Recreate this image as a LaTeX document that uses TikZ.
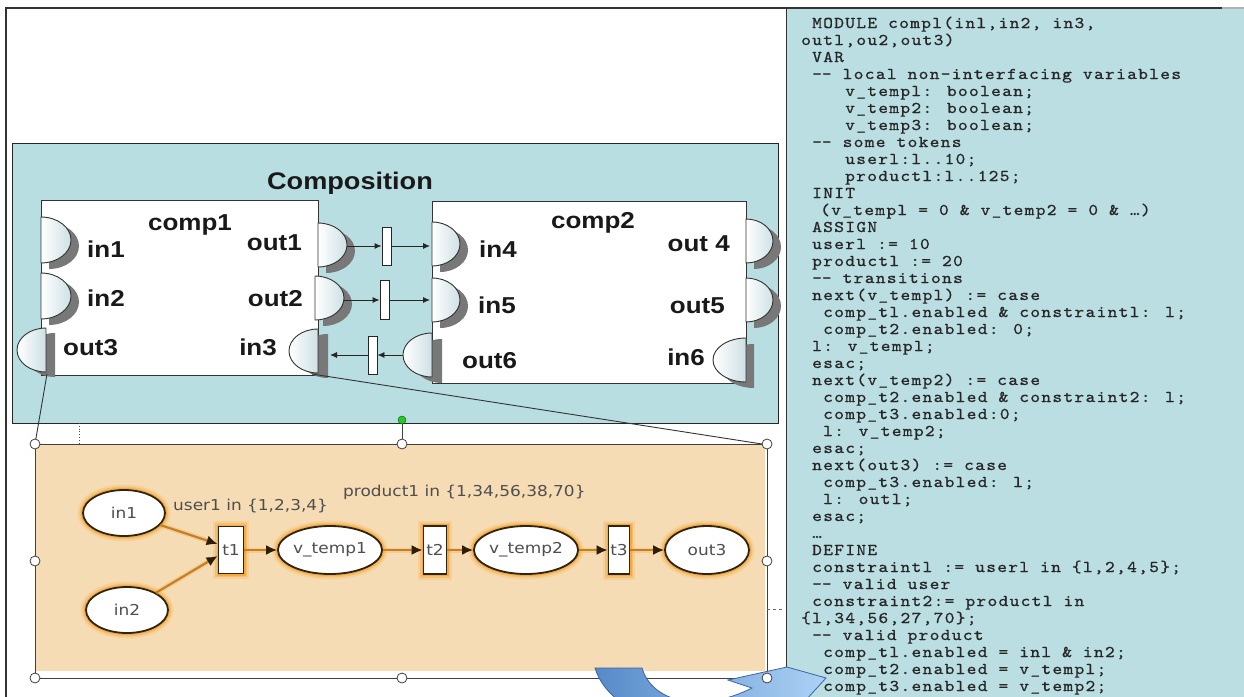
\documentclass[tikz,border=0pt]{standalone}
\usepackage{fontspec}
\usetikzlibrary{shapes.geometric,arrows.meta}
\newfontfamily\wsans{Liberation Sans}[FakeStretch=1.13]
\newfontfamily\vsans{DejaVu Sans}[FakeStretch=1.13]
\newfontfamily\cmono{lmmono10-regular.otf}[FakeStretch=1.13,LetterSpace=8,FakeBold=0.8]
\definecolor{panelblue}{RGB}{186,222,226}
\definecolor{compblue}{RGB}{184,222,226}
\definecolor{peach}{RGB}{246,220,180}
\definecolor{portfill}{RGB}{206,224,228}
\definecolor{portshade}{RGB}{120,120,120}
\definecolor{pnedge}{RGB}{196,128,40}
\definecolor{pnhead}{RGB}{45,30,10}
\definecolor{pnglowc}{RGB}{245,160,40}
\definecolor{pnborder}{RGB}{45,36,20}
\definecolor{pntext}{RGB}{78,78,78}
\definecolor{arrowdark}{RGB}{86,138,200}
\definecolor{arrowlight}{RGB}{172,210,245}
\definecolor{arrowedge}{RGB}{60,100,160}
\definecolor{handlegreen}{RGB}{40,200,40}
% two dashes that never fuse into an en dash
\newcommand\dd{-\kern0pt-}
% half-disc port: flat side x, centre y, signed bulge width, half height, shadow dx, shadow dy
\newcommand\dport[6]{%
  \fill[portshade] ({#1+#5},{#2+#6-#4}) .. controls ({#1+#5+0.5523*(#3)},{#2+#6-#4}) and ({#1+#5+#3},{#2+#6-0.5523*#4}) .. ({#1+#5+#3},{#2+#6})
     .. controls ({#1+#5+#3},{#2+#6+0.5523*#4}) and ({#1+#5+0.5523*(#3)},{#2+#6+#4}) .. ({#1+#5},{#2+#6+#4}) -- cycle;
  \draw[portline] ({#1},{#2-#4}) .. controls ({#1+0.5523*(#3)},{#2-#4}) and ({#1+#3},{#2-0.5523*#4}) .. ({#1+#3},{#2})
     .. controls ({#1+#3},{#2+0.5523*#4}) and ({#1+0.5523*(#3)},{#2+#4}) .. ({#1},{#2+#4}) -- cycle;
}
\begin{document}
\begin{tikzpicture}[x=1pt,y=-1pt,
  frameline/.style={draw=black!80,line width=1.2pt},
  compbox/.style={draw=black!80,fill=white,line width=1.1pt,inner sep=0pt},
  portline/.style={draw=black!80,line width=0.9pt,left color=white,right color=portfill},
  title/.style={font=\wsans\bfseries\fontsize{24}{28}\selectfont,text=black!90,inner sep=0pt},
  plab/.style={font=\wsans\bfseries\fontsize{23}{26}\selectfont,text=black!90,inner sep=0pt},
  gate/.style={draw=black!85,fill=white,line width=0.9pt,inner sep=0pt},
  conn/.style={draw=black!85,line width=0.9pt,-{Latex[length=7pt,width=6pt]}},
  selline/.style={draw=black!75,line width=1pt},
  handle/.style={circle,draw=black!75,fill=white,line width=0.8pt,minimum size=10pt,inner sep=0pt},
  glow/.style={preaction={draw=pnglowc,line width=11pt,opacity=0.18},
               preaction={draw=pnglowc,line width=7pt,opacity=0.35},
               preaction={draw=pnglowc,line width=4pt,opacity=0.7}},
  place/.style={ellipse,glow,draw=pnborder,fill=white,line width=1.8pt,inner sep=0pt,
                font=\vsans\fontsize{15}{17}\selectfont,text=pntext},
  trans/.style={rectangle,glow,draw=pnborder,fill=white,line width=1.8pt,inner sep=0pt,
                font=\vsans\fontsize{15}{17}\selectfont,text=pntext},
  pnarc/.style={draw=pnedge,line width=2.2pt,-{Latex[length=11pt,width=10pt,color=pnhead]},
                preaction={draw=pnglowc,line width=5pt,opacity=0.25}},
  guard/.style={font=\vsans\fontsize{15}{17}\selectfont,text=pntext,inner sep=0pt,anchor=base west},
  code/.style={anchor=base west,inner sep=0pt,font=\cmono\fontsize{16.4}{17}\selectfont,text=black!85},
  bluearrow/.style={left color=arrowdark,right color=arrowlight,draw=arrowedge,line width=0.8pt}]
\useasboundingbox (0,0) rectangle (1244,696);
\begin{scope}
\clip (0,0) rectangle (1244,696);
\fill[white] (0,0) rectangle (1244,696);

% ---------- code panel ----------
\fill[panelblue] (787,8) rectangle (1250,700);
\draw[frameline] (6,700) -- (6,8) -- (1222,8);
\draw[gray!60,line width=1.2pt] (1222,8) -- (1250,8);
\draw[frameline] (786.5,8) -- (786.5,700);

% ---------- composition ----------
\draw[fill=compblue,draw=black!85,line width=1pt] (12,143) rectangle (778,423);
\node[title] (comptitle) at (350,183) {Composition};

\node[compbox,minimum width=277pt,minimum height=175pt,anchor=north west] (comp1) at (41,200) {};
\node[compbox,minimum width=314pt,minimum height=182pt,anchor=north west] (comp2) at (432,201) {};

% ports of comp1
\dport{41}{240}{30}{23}{8}{6}
\dport{41}{296}{30}{23}{8}{6}
\dport{46}{350}{-29}{22}{9}{5}
\dport{318}{245}{29}{22}{8}{6}
\dport{315}{298}{29}{22}{8}{6}
\dport{318}{351}{-29}{22}{10}{5}
% ports of comp2
\dport{432}{244}{28}{22}{8}{6}
\dport{432}{300}{28}{22}{8}{6}
\dport{432}{355}{-29}{22}{10}{6}
\dport{746}{241}{27}{22}{8}{6}
\dport{746}{300}{27}{22}{8}{6}
\dport{746}{360}{-33}{22}{8}{6}

\node[plab,anchor=base] (c1name) at (190,230) {comp1};
\node[plab,anchor=base west] (l-in1) at (87,257) {in1};
\node[plab,anchor=base west] (l-in2) at (87,306) {in2};
\node[plab,anchor=base west] (l-out3) at (63,355) {out3};
\node[plab,anchor=base east] (l-out1) at (302,250) {out1};
\node[plab,anchor=base east] (l-out2) at (303,306) {out2};
\node[plab,anchor=base east] (l-in3) at (277,355) {in3};

\node[plab,anchor=base] (c2name) at (593,228) {comp2};
\node[plab,anchor=base west] (l-in4) at (479,257) {in4};
\node[plab,anchor=base west] (l-in5) at (478,313) {in5};
\node[plab,anchor=base west] (l-out6) at (462,368) {out6};
\node[plab,anchor=base east] (l-out4) at (730,251) {out 4};
\node[plab,anchor=base east] (l-out5) at (725,313) {out5};
\node[plab,anchor=base east] (l-in6) at (705,365) {in6};

% channels between the two components
\node[gate,minimum width=9pt,minimum height=38pt] (g1) at (386.5,246) {};
\node[gate,minimum width=9pt,minimum height=39pt] (g2) at (384.5,300) {};
\node[gate,minimum width=9pt,minimum height=38pt] (g3) at (372.5,355) {};
\coordinate (out1tip) at (347,246);
\coordinate (out2tip) at (344,300);
\coordinate (out6tip) at (403,355);
\coordinate (in4flat) at (430,246);
\coordinate (in5flat) at (430,300);
\coordinate (in3flat) at (330,355);
\draw[conn] (out1tip) -- (g1);
\draw[conn] (g1) -- (in4flat);
\draw[conn] (out2tip) -- (g2);
\draw[conn] (g2) -- (in5flat);
\draw[conn] (out6tip) -- (g3);
\draw[conn] (g3) -- (in3flat);

% ---------- refined net of comp1 ----------
\fill[peach] (36,444) rectangle (765,671);
\draw[selline] (35,444) rectangle (767,678);
\draw[black!70,line width=0.8pt,dotted] (79,423) -- (79,444);
\draw[black!60,line width=0.8pt,dashed] (767,609) -- (785,609);

\coordinate (out3low) at (47,374);
\coordinate (in3low) at (312,374);
\coordinate (selNW) at (35,444);
\coordinate (selNE) at (762,444);
\draw[black!80,line width=0.9pt] (out3low) -- (selNW);
\draw[black!80,line width=0.9pt] (in3low) -- (selNE);

\node[place,minimum width=82pt,minimum height=46pt] (p-in1) at (124,513) {in1};
\node[place,minimum width=82pt,minimum height=46pt] (p-in2) at (127,610) {in2};
\node[trans,minimum width=25pt,minimum height=47pt] (t1) at (231,550) {t1};
\node[place,minimum width=84pt,minimum height=48pt] (vt1) at (330,550) {v\_temp1};
\node[trans,minimum width=23pt,minimum height=48pt] (t2) at (435,550) {t2};
\node[place,minimum width=82pt,minimum height=48pt] (vt2) at (526,550) {v\_temp2};
\node[trans,minimum width=21pt,minimum height=48pt] (t3) at (619,550) {t3};
\node[place,minimum width=84pt,minimum height=48pt] (p-out3) at (707,550) {out3};

\draw[pnarc] (p-in1) -- ([yshift=6pt]t1.west);
\draw[pnarc] (p-in2) -- ([yshift=-6pt]t1.west);
\draw[pnarc] (t1) -- (vt1);
\draw[pnarc] (vt1) -- (t2);
\draw[pnarc] (t2) -- (vt2);
\draw[pnarc] (vt2) -- (t3);
\draw[pnarc] (t3) -- (p-out3);

\node[guard] (g-user) at (173,510) {user1 in \{1,2,3,4\}};
\node[guard] (g-prod) at (343,496) {product1 in \{1,34,56,38,70\}};

% ---------- code ----------
\node[code] (L1) at (812,28) {MODULE compl(inl,in2, in3,};
\node[code] (L2) at (801,45) {outl,ou2,out3)};
\node[code] (L3) at (812,62) {VAR};
\node[code] (L4) at (812,79) {\dd{} local non-interfacing variables};
\node[code] (L5) at (845,96) {v\_templ: boolean;};
\node[code] (L6) at (845,113) {v\_temp2: boolean;};
\node[code] (L7) at (845,130) {v\_temp3: boolean;};
\node[code] (L8) at (812,147) {\dd{} some tokens};
\node[code] (L9) at (845,164) {userl:l..10;};
\node[code] (L10) at (845,181) {productl:l..125;};
\node[code] (L11) at (812,198) {INIT};
\node[code] (L12) at (820,215) {(v\_templ = 0 \& v\_temp2 = 0 \& …)};
\node[code] (L13) at (812,232) {ASSIGN};
\node[code] (L14) at (812,249) {userl := 10};
\node[code] (L15) at (812,266) {productl := 20};
\node[code] (L16) at (812,283) {\dd{} transitions};
\node[code] (L17) at (812,300) {next(v\_templ) := case};
\node[code] (L18) at (823,317) {comp\_tl.enabled \& constraintl: l;};
\node[code] (L19) at (823,334) {comp\_t2.enabled: 0;};
\node[code] (L20) at (812,351) {l: v\_templ;};
\node[code] (L21) at (812,368) {esac;};
\node[code] (L22) at (812,385) {next(v\_temp2) := case};
\node[code] (L23) at (823,402) {comp\_t2.enabled \& constraint2: l;};
\node[code] (L24) at (823,419) {comp\_t3.enabled:0;};
\node[code] (L25) at (823,436) {l: v\_temp2;};
\node[code] (L26) at (812,453) {esac;};
\node[code] (L27) at (812,470) {next(out3) := case};
\node[code] (L28) at (823,487) {comp\_t3.enabled: l;};
\node[code] (L29) at (823,504) {l: outl;};
\node[code] (L30) at (812,521) {esac;};
\node[code] (L31) at (812,538) {…};
\node[code] (L32) at (812,555) {DEFINE};
\node[code] (L33) at (812,572) {constraintl := userl in \{l,2,4,5\};};
\node[code] (L34) at (812,589) {\dd{} valid user};
\node[code] (L35) at (812,606) {constraint2:= productl in};
\node[code] (L36) at (801,623) {\{l,34,56,27,70\};};
\node[code] (L37) at (812,640) {\dd{} valid product};
\node[code] (L38) at (823,657) {comp\_tl.enabled = inl \& in2;};
\node[code] (L39) at (823,674) {comp\_t2.enabled = v\_templ;};
\node[code] (L40) at (823,691) {comp\_t3.enabled = v\_temp2;};

% ---------- curved hand-over arrow ----------
\path[bluearrow] (595,668) -- (642,668) .. controls (652,702) and (700,714) .. (752,688)
   -- (728,680) -- (787,667) -- (826,678) -- (795,712) -- (783,704)
   .. controls (720,745) and (612,725) .. (595,668) -- cycle;

% ---------- selection handles ----------
\node[circle,draw=green!35!black,fill=handlegreen,minimum size=8pt,inner sep=0pt] (rot) at (402,420) {};
\node[handle] (hN) at (402,444) {};
\draw[black!75,line width=0.9pt] (rot) -- (hN);
\node[handle] (hNW) at (35,444) {};
\node[handle] (hNE) at (767,444) {};
\node[handle] (hW) at (35,561) {};
\node[handle] (hE) at (767,561) {};
\node[handle] (hSW) at (35,678) {};
\node[handle] (hS) at (402,678) {};
\node[handle] (hSE) at (767,678) {};
\end{scope}
\end{tikzpicture}
\end{document}
